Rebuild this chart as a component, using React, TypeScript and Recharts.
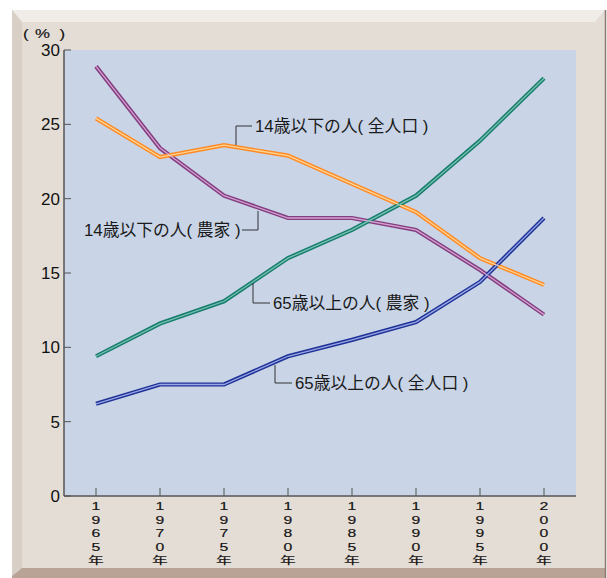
import React from "react";
import { LineChart, Line, XAxis, YAxis, CartesianGrid } from "recharts";

const years = ["1965", "1970", "1975", "1980", "1985", "1990", "1995", "2000"];
const under14Total = [25.4, 22.8, 23.6, 22.9, 21.0, 19.1, 16.0, 14.2];
const under14Farm = [28.9, 23.4, 20.2, 18.7, 18.7, 17.9, 15.2, 12.2];
const over65Farm = [9.4, 11.6, 13.1, 16.0, 17.9, 20.2, 23.9, 28.1];
const over65Total = [6.2, 7.5, 7.5, 9.4, 10.5, 11.7, 14.4, 18.7];
const yTicks = [0, 5, 10, 15, 20, 25, 30];

const data = years.map((y, i) => ({
  year: y,
  u14t: under14Total[i],
  u14f: under14Farm[i],
  o65f: over65Farm[i],
  o65t: over65Total[i],
}));

const series = [
  { key: "u14f", outer: "#843d80", inner: "#d4a2cf" },
  { key: "u14t", outer: "#ff8a24", inner: "#ffd596" },
  { key: "o65f", outer: "#167c6d", inner: "#78c2b1" },
  { key: "o65t", outer: "#1e3296", inner: "#9aa6e6" },
];

const FONT = "'Liberation Sans', Arial, 'Noto Sans CJK JP', sans-serif";
const JFONT = "'Liberation Sans', 'Noto Sans CJK JP', sans-serif";

const XTick = (props: any) => {
  const { x, y, payload } = props;
  const chars = (payload.value + "年").split("");
  return (
    <g>
      <line x1={x} x2={x} y1={y - 8} y2={y} stroke="#555" strokeWidth={1} />
      <g transform={`translate(${x},0) scale(1.5,1) translate(${-x},0)`}>
        <text
          x={x}
          y={y + 14}
          textAnchor="middle"
          fontSize={10.5}
          fill="#111"
          stroke="#111"
          strokeWidth={0.15}
          fontFamily={JFONT}
        >
          {chars.map((c: string, i: number) => (
            <tspan key={i} x={x} dy={i === 0 ? 0 : 13.6}>
              {c}
            </tspan>
          ))}
        </text>
      </g>
    </g>
  );
};

const YTick = (props: any) => {
  const { x, y, payload } = props;
  return (
    <g>
      <line x1={x} x2={x + 7} y1={y} y2={y} stroke="#555" strokeWidth={1} />
      <text x={x - 4} y={y + 6} textAnchor="end" fontSize={17} fill="#111" fontFamily={FONT}>
        {payload.value}
      </text>
    </g>
  );
};

export default function App() {
  return (
    <div style={{ position: "absolute", left: 0, top: 0, width: 607, height: 578, background: "#fff" }}>
      <svg width={607} height={578} style={{ position: "absolute", left: 0, top: 0 }}>
        <rect x={12} y={10} width={593} height={566} fill="#e4ddd6" />
        <polygon points="12,10 605,10 595,22 22,22" fill="#f0ece8" />
        <polygon points="12,10 22,22 22,568 12,576" fill="#d8cfc7" />
        <polygon points="12,576 22,568 605,568 605,578 12,578" fill="#b8a396" />
        <line x1={605.5} y1={10} x2={605.5} y2={578} stroke="#8a7a70" strokeWidth={1.5} />
      </svg>
      <div style={{ position: "absolute", left: 0, top: 0 }}>
        <LineChart
          width={607}
          height={578}
          data={data}
          margin={{ top: 50, right: 31, bottom: 12, left: 0 }}
        >
          <CartesianGrid horizontal={false} vertical={false} fill="#c9d5e7" stroke="none" />
          <XAxis
            dataKey="year"
            interval={0}
            padding={{ left: 32, right: 32 }}
            tick={<XTick />}
            tickLine={false}
            tickSize={0}
            tickMargin={0}
            height={70}
            axisLine={{ stroke: "#555", strokeWidth: 1.5 }}
          />
          <XAxis
            xAxisId="top"
            dataKey="year"
            orientation="top"
            tick={false}
            tickLine={false}
            height={0}
            axisLine={{ stroke: "#555", strokeWidth: 1.5 }}
          />
          <YAxis
            domain={[0, 30]}
            ticks={yTicks}
            width={64}
            tick={<YTick />}
            tickLine={false}
            tickSize={0}
            tickMargin={0}
            interval={0}
            axisLine={{ stroke: "#555", strokeWidth: 1.5 }}
          />
          <YAxis
            yAxisId="right"
            orientation="right"
            domain={[0, 30]}
            tick={false}
            tickLine={false}
            width={0}
            axisLine={{ stroke: "#555", strokeWidth: 1.5 }}
          />
          {series.map((s) => (
            <Line
              key={s.key + "o"}
              dataKey={s.key}
              stroke={s.outer}
              strokeWidth={4.2}
              dot={false}
              activeDot={false}
              isAnimationActive={false}
              strokeLinejoin="miter"
            />
          ))}
          {series.map((s) => (
            <Line
              key={s.key + "i"}
              dataKey={s.key}
              stroke={s.inner}
              strokeWidth={1.3}
              dot={false}
              activeDot={false}
              isAnimationActive={false}
              strokeLinejoin="miter"
            />
          ))}
        </LineChart>
      </div>
      <svg width={607} height={578} style={{ position: "absolute", left: 0, top: 0, pointerEvents: "none" }}>
        <g transform="translate(23,0) scale(1.4,1) translate(-23,0)" fontSize={12} fill="#111" stroke="#111" strokeWidth={0.15} fontFamily={JFONT}>
          <text x={23} y={38}>(</text>
          <text x={31.5} y={38}>%</text>
          <text x={49} y={38}>)</text>
        </g>
        <g fill="#1a1a1a" fontFamily={JFONT} fontSize={16.8} stroke="none">
          <polyline points="236,145 236,126 252,126" fill="none" stroke="#333" strokeWidth={1} />
          <text x={255} y={132}>14歳以下の人( 全人口 )</text>
          <polyline points="242,230 258,230 258,211" fill="none" stroke="#333" strokeWidth={1} />
          <text x={84} y={236}>14歳以下の人( 農家 )</text>
          <polyline points="253,283 253,303 270,303" fill="none" stroke="#333" strokeWidth={1} />
          <text x={273} y={309}>65歳以上の人( 農家 )</text>
          <polyline points="275,365 275,383 292,383" fill="none" stroke="#333" strokeWidth={1} />
          <text x={295} y={389}>65歳以上の人( 全人口 )</text>
        </g>
      </svg>
    </div>
  );
}
